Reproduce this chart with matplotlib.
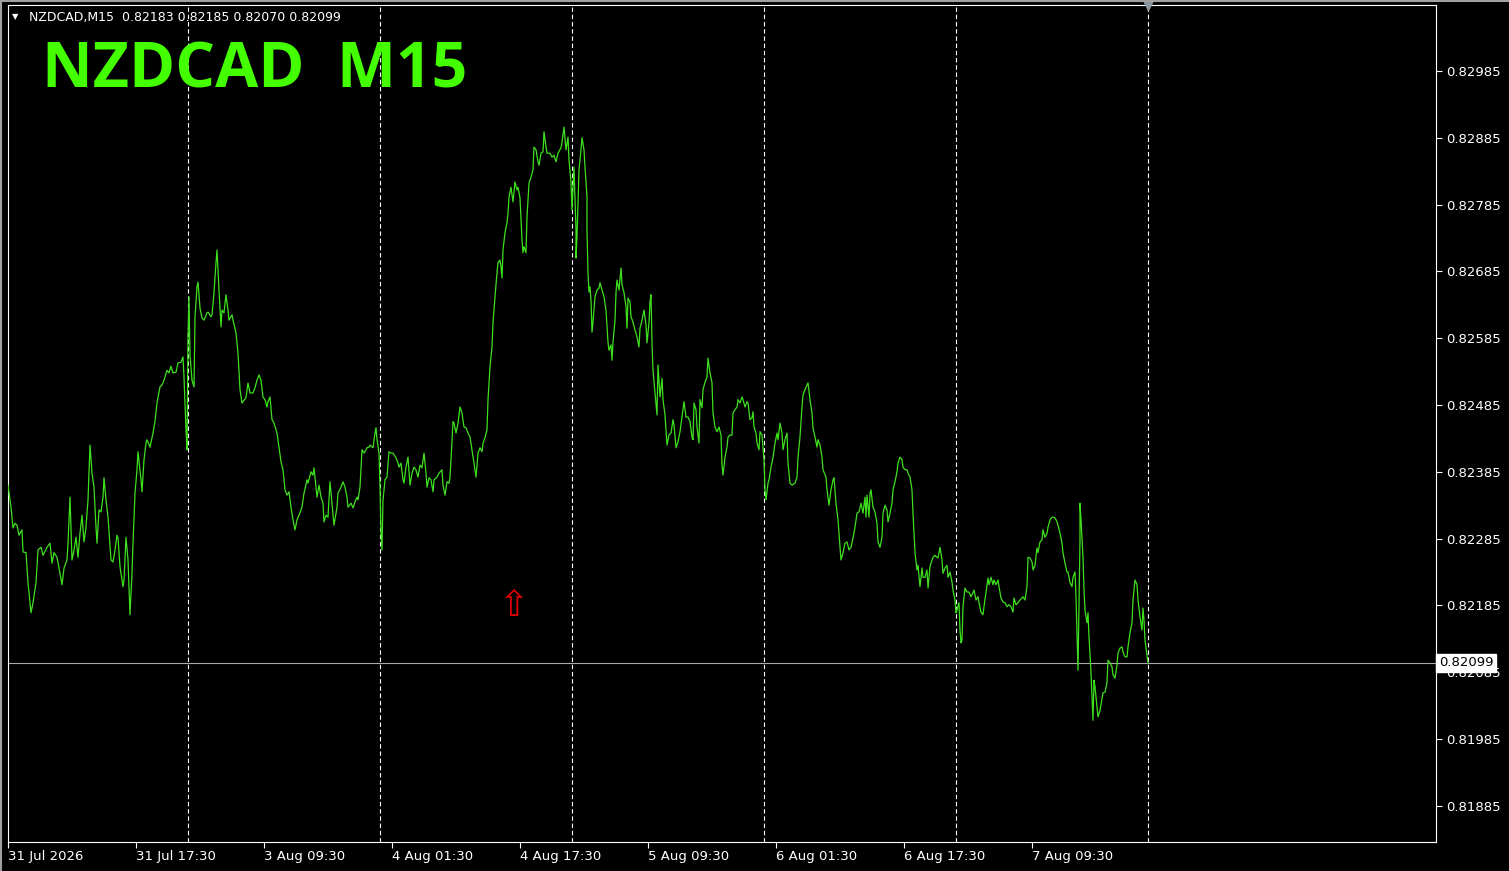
import numpy as np
import matplotlib.pyplot as plt
import matplotlib.transforms as mtransforms
from matplotlib.lines import Line2D

# ============================== DATA ==============================
symbol = 'NZDCAD'
period = 'M15'
ohlc_last = [0.82183, 0.82185, 0.82070, 0.82099]
last_price = 0.82099

# bar number since 31 Jul 01:30 (M15 bars) and close price
bars = [
    0, 1.5, 2.5, 3.5, 4.5, 5.5, 7, 7.5, 9, 10, 11.5, 12.5, 14, 15, 16.5, 17.5, 19.5, 21, 22, 23,
    24.5, 26, 27, 28, 29.5, 30, 31, 32, 33, 34, 35, 36, 37, 38, 39, 40, 41, 42, 43, 44,
    44.5, 45.5, 46.5, 47.5, 48, 49, 50, 51.5, 52.5, 53.5, 54.5, 55, 56, 57.5, 58, 59, 60, 61, 62, 62.5,
    63.5, 64.5, 65, 66.5, 67, 68, 69, 69.5, 71, 72.5, 73.5, 74.5, 76, 77, 78, 79.5, 80.5, 81.5, 82.5, 84,
    85, 86.5, 87.5, 88, 89, 89.5, 90, 90.5, 91, 92, 93, 93.5, 94.5, 95, 96, 97, 98, 99.5, 100, 101.5,
    102, 103, 104, 104.5, 105, 105.5, 106.5, 107, 108, 109, 110, 110.5, 112, 112.5, 114, 115, 116, 117, 117.5, 119,
    120, 121, 122.5, 123.5, 124.5, 125.5, 126.5, 127.5, 128.5, 129.5, 130, 131, 132, 133, 134.5, 135.5, 136.5, 137.5, 138.5, 139.5,
    140.5, 141.5, 142.5, 143.5, 144.5, 145.5, 147, 148, 149.5, 150, 151.5, 152.5, 153, 154, 154.5, 155.5, 156.5, 157.5, 158, 159,
    160, 161, 162, 163, 164.5, 165, 166.5, 167.5, 168.5, 169.5, 170, 171.5, 172.5, 173.5, 174.5, 175, 176, 177, 178, 179.5,
    180.5, 181, 182.5, 183.5, 184, 184.5, 185.5, 186, 186.5, 187, 187.5, 188.5, 189.5, 190.5, 191.5, 192.5, 194, 195, 195.5, 196.5,
    197.5, 198, 199, 200, 201, 202, 203, 204, 205, 206, 207, 208, 209, 209.5, 210.5, 211.5, 212.5, 213, 214.5, 215.5,
    217, 217.5, 218.5, 219.5, 220.5, 221, 221.5, 222.5, 223, 224, 225, 226, 227, 228, 229, 230, 231, 232, 233, 234,
    235, 236, 237, 237.5, 238.5, 239.5, 240, 241, 242, 242.5, 243.5, 244.5, 245, 246, 246.5, 247, 247.5, 248.5, 249.5, 250,
    250.5, 251.5, 252.5, 253.5, 254.5, 255, 256, 257, 257.5, 258, 259, 259.5, 260.5, 261.5, 262.5, 263, 264, 265, 265.5, 266.5,
    267.5, 268, 269, 269.5, 271, 272, 273, 274, 275, 276.5, 277, 278, 279, 280, 280.5, 281.5, 282, 282.5, 283, 283.5,
    284, 284, 284.5, 285.5, 286, 286.5, 287, 288, 288.5, 289.5, 289.5, 290, 290.5, 291, 291.5, 292, 292.5, 293.5, 294.5, 295.5,
    296, 297, 298, 299, 300, 300.5, 301.5, 302, 302.5, 303.5, 304, 304.5, 305.5, 306.5, 307, 308, 309, 309.5, 310, 311,
    311.5, 312.5, 313.5, 314.5, 315.5, 316, 317, 318, 319, 319.5, 320.5, 321, 321.5, 322, 322.5, 323.5, 324.5, 325, 326, 327,
    327.5, 328.5, 329.5, 330.5, 331.5, 332.5, 333, 334, 335, 336, 337, 338, 339, 340, 341, 342, 342.5, 343, 344, 344.5,
    345.5, 346, 347, 347.5, 348.5, 349.5, 350, 351, 352, 352.5, 353.5, 354.5, 355.5, 356.5, 357, 357.5, 358.5, 359.5, 360, 361,
    362, 362.5, 363.5, 364.5, 365, 366, 367, 367.5, 368.5, 369.5, 370, 371, 372, 372.5, 373, 374, 374.5, 375.5, 376, 377,
    377.5, 378, 378.5, 379, 380, 380.5, 381.5, 382.5, 383.5, 384.5, 385, 386, 387, 387.5, 388.5, 389.5, 390, 391, 392, 393.5,
    394.5, 395, 396, 397, 397.5, 398.5, 399.5, 400, 401, 402, 402.5, 403.5, 404.5, 405, 406, 407, 407.5, 409, 409.5, 410.5,
    411.5, 412.5, 413, 414, 415, 415.5, 416.5, 417.5, 418.5, 419.5, 420.5, 421.5, 422.5, 423.5, 424.5, 425.5, 426.5, 427.5, 428.5, 429,
    429.5, 430.5, 431, 431.5, 432.5, 433.5, 434.5, 435, 436, 437, 437.5, 438.5, 439.5, 440, 441, 442, 442.5, 443.5, 444.5, 445,
    446, 447, 447.5, 448.5, 449.5, 450, 451, 452, 452.5, 453.5, 454.5, 455, 456, 457, 457.5, 458.5, 459.5, 460, 461, 462,
    462.5, 463.5, 464.5, 465, 466, 467, 467.5, 468.5, 469.5, 470, 471, 472, 472.5, 473.5, 474, 474.5, 475.5, 476, 476.5, 477,
    477.5, 478.5, 479.5, 480.5, 481.5, 482.5, 483, 484, 485, 485.5, 486.5, 487.5, 488, 489, 490, 490.5, 491.5, 492.5, 493, 494,
    495, 495.5, 496.5, 497.5, 498.5, 499.5, 500.5, 501.5, 502.5, 503, 504, 505, 506, 507, 507.5, 508.5, 509.5, 510, 511, 512,
    512.5, 513.5, 514.5, 515, 516, 517, 517.5, 518.5, 519.5, 520, 521, 522, 522.5, 523.5, 524.5, 525, 526, 527, 527.5, 528.5,
    529.5, 530, 531, 532, 532.5, 533.5, 534, 534.5, 535, 535.5, 536, 536, 536.5, 537.5, 538, 538.5, 539.5, 540, 540.5, 541.5,
    542, 542.5, 543, 543.5, 544.5, 545, 546, 547, 547.5, 548.5, 549.5, 550, 551, 552, 552.5, 553.5, 554.5, 555, 556, 557,
    557.5, 558.5, 559.5, 560, 561, 562, 562.5, 563.5, 564.5, 565, 566, 567, 567.5, 568, 568.5, 570,
]
close = [
    0.82365, 0.82332, 0.82301, 0.82308, 0.82305, 0.82290, 0.82298, 0.82265, 0.82264, 0.82219, 0.82174, 0.82189, 0.82219, 0.82268, 0.82272, 0.82260, 0.82272, 0.82278, 0.82248, 0.82264,
    0.82257, 0.82233, 0.82216, 0.82241, 0.82253, 0.82278, 0.82347, 0.82253, 0.82268, 0.82287, 0.82257, 0.82293, 0.82320, 0.82280, 0.82302, 0.82343, 0.82425, 0.82383, 0.82362, 0.82302,
    0.82278, 0.82328, 0.82325, 0.82347, 0.82376, 0.82343, 0.82317, 0.82253, 0.82250, 0.82268, 0.82290, 0.82286, 0.82243, 0.82213, 0.82223, 0.82287, 0.82253, 0.82171, 0.82233, 0.82278,
    0.82353, 0.82388, 0.82415, 0.82373, 0.82355, 0.82403, 0.82428, 0.82433, 0.82422, 0.82443, 0.82460, 0.82488, 0.82512, 0.82515, 0.82522, 0.82537, 0.82533, 0.82543, 0.82533, 0.82534,
    0.82548, 0.82549, 0.82557, 0.82527, 0.82448, 0.82418, 0.82587, 0.82647, 0.82560, 0.82522, 0.82512, 0.82617, 0.82662, 0.82669, 0.82630, 0.82615, 0.82612, 0.82623, 0.82624, 0.82617,
    0.82620, 0.82653, 0.82698, 0.82717, 0.82687, 0.82657, 0.82602, 0.82627, 0.82623, 0.82650, 0.82627, 0.82612, 0.82620, 0.82612, 0.82593, 0.82563, 0.82508, 0.82488, 0.82490, 0.82496,
    0.82518, 0.82503, 0.82503, 0.82511, 0.82522, 0.82530, 0.82522, 0.82497, 0.82493, 0.82482, 0.82490, 0.82497, 0.82463, 0.82458, 0.82443, 0.82422, 0.82400, 0.82388, 0.82358, 0.82350,
    0.82355, 0.82332, 0.82313, 0.82298, 0.82313, 0.82320, 0.82332, 0.82353, 0.82373, 0.82368, 0.82385, 0.82380, 0.82391, 0.82362, 0.82347, 0.82365, 0.82347, 0.82338, 0.82310, 0.82320,
    0.82317, 0.82370, 0.82338, 0.82305, 0.82332, 0.82353, 0.82362, 0.82370, 0.82362, 0.82347, 0.82332, 0.82338, 0.82331, 0.82340, 0.82347, 0.82343, 0.82362, 0.82418, 0.82413, 0.82421,
    0.82422, 0.82425, 0.82421, 0.82443, 0.82451, 0.82433, 0.82413, 0.82365, 0.82293, 0.82268, 0.82343, 0.82373, 0.82377, 0.82415, 0.82413, 0.82413, 0.82406, 0.82398, 0.82392, 0.82398,
    0.82373, 0.82368, 0.82392, 0.82407, 0.82365, 0.82383, 0.82392, 0.82388, 0.82377, 0.82395, 0.82391, 0.82413, 0.82383, 0.82362, 0.82376, 0.82373, 0.82355, 0.82373, 0.82377, 0.82383,
    0.82388, 0.82365, 0.82350, 0.82370, 0.82368, 0.82377, 0.82403, 0.82460, 0.82458, 0.82443, 0.82458, 0.82482, 0.82473, 0.82452, 0.82451, 0.82443, 0.82437, 0.82418, 0.82398, 0.82377,
    0.82413, 0.82421, 0.82415, 0.82428, 0.82436, 0.82448, 0.82493, 0.82542, 0.82572, 0.82608, 0.82647, 0.82683, 0.82698, 0.82702, 0.82692, 0.82675, 0.82717, 0.82743, 0.82758, 0.82772,
    0.82796, 0.82811, 0.82789, 0.82819, 0.82807, 0.82811, 0.82795, 0.82732, 0.82713, 0.82722, 0.82713, 0.82767, 0.82817, 0.82826, 0.82837, 0.82871, 0.82867, 0.82849, 0.82844, 0.82862,
    0.82864, 0.82894, 0.82871, 0.82862, 0.82862, 0.82856, 0.82859, 0.82849, 0.82862, 0.82870, 0.82879, 0.82901, 0.82867, 0.82886, 0.82852, 0.82819, 0.82777, 0.82811, 0.82841, 0.82795,
    0.82747, 0.82705, 0.82737, 0.82837, 0.82852, 0.82867, 0.82885, 0.82867, 0.82841, 0.82796, 0.82747, 0.82683, 0.82654, 0.82662, 0.82642, 0.82594, 0.82609, 0.82647, 0.82657, 0.82660,
    0.82668, 0.82657, 0.82647, 0.82627, 0.82579, 0.82567, 0.82575, 0.82552, 0.82579, 0.82612, 0.82653, 0.82672, 0.82657, 0.82690, 0.82665, 0.82653, 0.82632, 0.82600, 0.82645, 0.82639,
    0.82617, 0.82609, 0.82597, 0.82587, 0.82572, 0.82600, 0.82612, 0.82627, 0.82605, 0.82578, 0.82608, 0.82639, 0.82650, 0.82578, 0.82537, 0.82503, 0.82470, 0.82545, 0.82497, 0.82525,
    0.82493, 0.82470, 0.82425, 0.82440, 0.82443, 0.82463, 0.82455, 0.82421, 0.82430, 0.82445, 0.82467, 0.82490, 0.82467, 0.82467, 0.82460, 0.82437, 0.82433, 0.82488, 0.82478, 0.82452,
    0.82428, 0.82493, 0.82481, 0.82508, 0.82519, 0.82527, 0.82555, 0.82533, 0.82518, 0.82473, 0.82452, 0.82445, 0.82452, 0.82440, 0.82395, 0.82380, 0.82407, 0.82422, 0.82437, 0.82440,
    0.82440, 0.82473, 0.82478, 0.82482, 0.82493, 0.82488, 0.82497, 0.82493, 0.82482, 0.82490, 0.82488, 0.82463, 0.82466, 0.82475, 0.82452, 0.82443, 0.82428, 0.82418, 0.82445, 0.82440,
    0.82422, 0.82403, 0.82358, 0.82343, 0.82368, 0.82373, 0.82392, 0.82406, 0.82428, 0.82443, 0.82433, 0.82458, 0.82443, 0.82418, 0.82433, 0.82443, 0.82398, 0.82368, 0.82365, 0.82368,
    0.82377, 0.82407, 0.82437, 0.82482, 0.82500, 0.82508, 0.82515, 0.82518, 0.82493, 0.82473, 0.82451, 0.82437, 0.82422, 0.82433, 0.82425, 0.82407, 0.82388, 0.82377, 0.82358, 0.82335,
    0.82358, 0.82373, 0.82376, 0.82338, 0.82313, 0.82293, 0.82253, 0.82264, 0.82278, 0.82280, 0.82268, 0.82272, 0.82286, 0.82302, 0.82323, 0.82325, 0.82338, 0.82323, 0.82347, 0.82317,
    0.82350, 0.82317, 0.82353, 0.82358, 0.82332, 0.82325, 0.82308, 0.82280, 0.82272, 0.82287, 0.82323, 0.82335, 0.82328, 0.82310, 0.82323, 0.82338, 0.82358, 0.82370, 0.82385, 0.82398,
    0.82407, 0.82403, 0.82392, 0.82388, 0.82388, 0.82383, 0.82377, 0.82358, 0.82323, 0.82264, 0.82238, 0.82245, 0.82213, 0.82241, 0.82227, 0.82227, 0.82238, 0.82211, 0.82243, 0.82253,
    0.82257, 0.82260, 0.82257, 0.82256, 0.82272, 0.82253, 0.82233, 0.82241, 0.82245, 0.82227, 0.82235, 0.82220, 0.82208, 0.82193, 0.82174, 0.82178, 0.82189, 0.82148, 0.82129, 0.82133,
    0.82183, 0.82211, 0.82205, 0.82205, 0.82198, 0.82204, 0.82208, 0.82193, 0.82198, 0.82189, 0.82175, 0.82171, 0.82183, 0.82204, 0.82226, 0.82216, 0.82227, 0.82216, 0.82223, 0.82216,
    0.82223, 0.82213, 0.82196, 0.82190, 0.82189, 0.82183, 0.82186, 0.82183, 0.82175, 0.82196, 0.82186, 0.82189, 0.82193, 0.82196, 0.82198, 0.82193, 0.82213, 0.82257, 0.82256, 0.82250,
    0.82238, 0.82245, 0.82271, 0.82264, 0.82280, 0.82283, 0.82298, 0.82287, 0.82293, 0.82302, 0.82313, 0.82317, 0.82317, 0.82316, 0.82310, 0.82305, 0.82293, 0.82278, 0.82264, 0.82248,
    0.82235, 0.82235, 0.82219, 0.82213, 0.82227, 0.82235, 0.82198, 0.82144, 0.82088, 0.82183, 0.82283, 0.82338, 0.82313, 0.82257, 0.82208, 0.82178, 0.82159, 0.82174, 0.82138, 0.82084,
    0.82048, 0.82013, 0.82073, 0.82063, 0.82033, 0.82018, 0.82028, 0.82046, 0.82054, 0.82055, 0.82069, 0.82103, 0.82099, 0.82093, 0.82081, 0.82076, 0.82096, 0.82114, 0.82121, 0.82123,
    0.82115, 0.82108, 0.82108, 0.82123, 0.82144, 0.82159, 0.82193, 0.82223, 0.82216, 0.82193, 0.82168, 0.82148, 0.82181, 0.82163, 0.82133, 0.82099,
]

# time axis labels (every 64 bars) and day separators
tick_bars = [0, 64, 128, 192, 256, 320, 384, 448, 512]
tick_labels = ['31 Jul 2026', '31 Jul 17:30', '3 Aug 09:30', '4 Aug 01:30', '4 Aug 17:30',
               '5 Aug 09:30', '6 Aug 01:30', '6 Aug 17:30', '7 Aug 09:30']
day_bars = [90, 186, 282, 378, 474, 570]

# price scale
price_ticks = [0.82985, 0.82885, 0.82785, 0.82685, 0.82585, 0.82485,
               0.82385, 0.82285, 0.82185, 0.82085, 0.81985, 0.81885]
price_lo, price_hi = 0.818308, 0.830838
bar_lo, bar_hi = 0, 714

# arrow object on the chart
arrow_bar, arrow_price = 253, 0.82184

# ============================== PLOT STUFF =============================
W, H = 1509, 871
fig = plt.figure(figsize=(W/100, H/100), dpi=100, facecolor='black')
ax = fig.add_axes([8/W, 1-842/H, 1428/W, 837/H], facecolor='black')

# price line
ax.plot(bars, close, color='#3ee01e', lw=0.9, zorder=3)

# day separators
for b in day_bars:
    ax.axvline(b, color='white', lw=0.8, linestyle=(0, (4, 2.5)), zorder=1)

# current price line + marker
ax.axhline(last_price, color='#a8a8a8', lw=0.8, zorder=2)
ax.plot(day_bars[-1], price_hi, marker='v', ms=7, color='#8c96a0', clip_on=False, zorder=4)

# arrow
ax.text(arrow_bar, arrow_price, '\u21e7', color='#e00000', fontsize=26,
        ha='center', va='center', family='DejaVu Sans', zorder=4)

ax.set_xlim(bar_lo, bar_hi)
ax.set_ylim(price_lo, price_hi)

ax.yaxis.tick_right()
ax.set_yticks(price_ticks)
ax.set_yticklabels(['%.5f' % p for p in price_ticks])
ax.set_xticks(tick_bars)
ax.set_xticklabels(tick_labels, ha='left')
ax.tick_params(colors='white', labelcolor='white', labelsize=9.5, length=4, width=0.8, pad=3)
ax.tick_params(axis='x', pad=2)
for s in ax.spines.values():
    s.set_color('white')
    s.set_linewidth(0.8)

# last price box
trans = mtransforms.blended_transform_factory(ax.transAxes, ax.transData)
ax.text(1.002, last_price, '%.5f' % last_price, transform=trans, color='black', fontsize=9.5,
        ha='left', va='center', clip_on=False, zorder=10,
        bbox=dict(boxstyle='square,pad=0.2', fc='white', ec='white'))

# header
fig.text(12/W, 1-17/H, '\u25bc', color='white', fontsize=6, va='center', ha='left')
fig.text(29/W, 1-17/H, '%s,%s  %s' % (symbol, period, ' '.join('%.5f' % v for v in ohlc_last)),
         color='white', fontsize=9, va='center', ha='left')
fig.text(42/W, 1-88/H, '%s  %s' % (symbol, period), color='#44ff00', fontsize=45,
         fontweight='bold', family='Open Sans', va='baseline', ha='left')

# window frame
fig.add_artist(Line2D([0, 1], [1-1.5/H, 1-1.5/H], color='#a0a0a0', lw=1.5))
fig.add_artist(Line2D([1.5/W, 1.5/W], [0, 1], color='#a0a0a0', lw=1.5))

plt.savefig('out.png', dpi=100, facecolor='black')
